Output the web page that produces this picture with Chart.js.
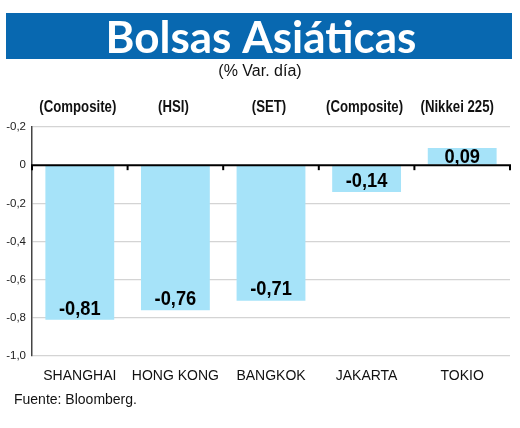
<!DOCTYPE html>
<html>
<head>
<meta charset="utf-8">
<title>Bolsas Asiáticas</title>
<script src="https://cdn.jsdelivr.net/npm/chart.js@4"></script>
<style>
  html, body { margin: 0; padding: 0; background: #fff; }
  canvas { display: block; }
</style>
</head>
<body>
<canvas id="chart" width="520" height="428"></canvas>
<script>
const categories = ['SHANGHAI', 'HONG KONG', 'BANGKOK', 'JAKARTA', 'TOKIO'];
const indices = ['(Composite)', '(HSI)', '(SET)', '(Composite)', '(Nikkei 225)'];
const values = [-0.81, -0.76, -0.71, -0.14, 0.09];
const yTicks = [-1.0, -0.8, -0.6, -0.4, -0.2, 0, 0.2];
const yTickLabels = ['-1,0', '-0,8', '-0,6', '-0,4', '-0,2', '0', '-0,2'];

const titleText = 'Bolsas Asiáticas';
const subtitleText = '(% Var. día)';
const sourceText = 'Fuente: Bloomberg.';

const sans = '"Liberation Sans", Arial, sans-serif';

// draw text squeezed horizontally, the reference uses a condensed face
function condensed(ctx, text, x, y, k) {
    ctx.save();
    ctx.translate(x, y);
    ctx.scale(k, 1);
    ctx.fillText(text, 0, 0);
    ctx.restore();
}

const decor = {
    id: 'decor',
    beforeDraw(chart) {
        const ctx = chart.ctx;
        ctx.save();
        ctx.fillStyle = '#fff';
        ctx.fillRect(0, 0, chart.width, chart.height);

        // banner
        ctx.fillStyle = '#0868b0';
        ctx.fillRect(6, 13, 506, 46);
        ctx.fillStyle = '#fff';
        ctx.font = 'bold 44px Lato, "Open Sans", sans-serif';
        ctx.textAlign = 'center';
        ctx.textBaseline = 'alphabetic';
        ctx.fillText(titleText, 261, 53, 328);

        ctx.fillStyle = '#111';
        ctx.font = '16px ' + sans;
        ctx.textBaseline = 'middle';
        ctx.fillText(subtitleText, 260, 72);

        // index names above each column
        const x = chart.scales.x;
        ctx.font = 'bold 16.5px ' + sans;
        indices.forEach((t, i) => {
            condensed(ctx, t, x.getPixelForValue(i) - (i === 4 ? 5 : 2), 107, 0.8);
        });

        ctx.textAlign = 'left';
        ctx.font = '14px ' + sans;
        ctx.fillText(sourceText, 14, 400);
        ctx.restore();
    },
    afterDatasetsDraw(chart) {
        const ctx = chart.ctx;
        const x = chart.scales.x;
        const y = chart.scales.y;
        const area = chart.chartArea;
        const y0 = y.getPixelForValue(0);

        ctx.save();
        // zero line with ticks at category boundaries
        ctx.strokeStyle = '#000';
        ctx.lineWidth = 2;
        ctx.beginPath();
        ctx.moveTo(area.left - 1, y0);
        ctx.lineTo(area.right + 1, y0);
        ctx.stroke();
        for (let i = 0; i <= categories.length; i++) {
            const bx = x.getPixelForValue(i - 0.5);
            ctx.beginPath();
            ctx.moveTo(bx, y0);
            ctx.lineTo(bx, y0 + 5);
            ctx.stroke();
        }

        // value labels
        ctx.fillStyle = '#000';
        ctx.font = 'bold 21px ' + sans;
        ctx.textAlign = 'center';
        ctx.textBaseline = 'middle';
        const meta = chart.getDatasetMeta(0);
        meta.data.forEach((bar, i) => {
            const v = values[i];
            const ly = v < 0 ? bar.y - 11 : bar.y + 9;
            condensed(ctx, v.toFixed(2).replace('.', ','), bar.x, ly, 0.87);
        });
        ctx.restore();
    }
};

new Chart(document.getElementById('chart'), {
    type: 'bar',
    data: {
        labels: categories,
        datasets: [{
            data: values,
            backgroundColor: '#a6e3f9',
            borderWidth: 0,
            categoryPercentage: 1,
            barPercentage: 0.72
        }]
    },
    options: {
        responsive: false,
        animation: false,
        layout: { padding: { top: 127, right: 10, left: 0, bottom: 0 } },
        plugins: {
            legend: { display: false },
            tooltip: { enabled: false }
        },
        scales: {
            x: {
                grid: { display: false, drawTicks: false },
                border: { display: false },
                ticks: {
                    color: '#111',
                    font: { family: sans, size: 14 },
                    padding: 12
                },
                afterFit(scale) { scale.height = 72; }
            },
            y: {
                min: -1.0,
                max: 0.2,
                afterBuildTicks(scale) {
                    scale.ticks = yTicks.map(v => ({ value: v }));
                },
                ticks: {
                    color: '#222',
                    font: { family: sans, size: 11.5 },
                    padding: 6,
                    callback: (v, i) => yTickLabels[i]
                },
                grid: {
                    drawTicks: false,
                    color: ctx => ctx.tick && ctx.tick.value === 0 ? 'rgba(0,0,0,0)' : '#d4d4d4',
                    lineWidth: 1.2
                },
                border: { color: '#444', width: 1.5 },
                afterFit(scale) { scale.width = 32; }
            }
        }
    },
    plugins: [decor]
});
</script>
</body>
</html>
